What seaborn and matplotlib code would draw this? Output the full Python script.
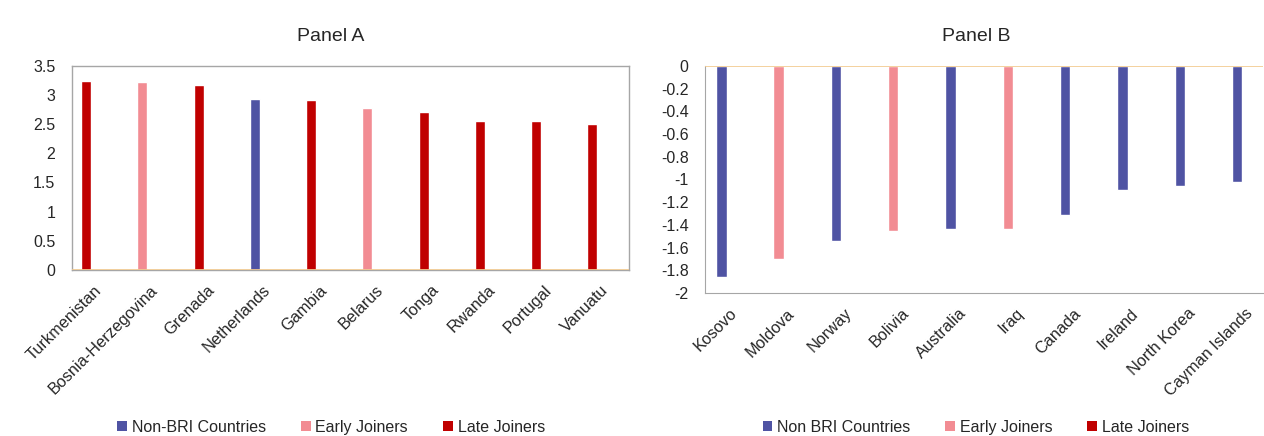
import matplotlib
matplotlib.use('Agg')
import matplotlib.pyplot as plt
import matplotlib.transforms as mtransforms
import numpy as np
import pandas as pd
import seaborn as sns
from matplotlib.patches import Patch

sns.set_style('white')
plt.rcParams['font.family'] = ['Liberation Sans', 'DejaVu Sans']

# Panel A data
countries_a = ['Turkmenistan', 'Bosnia-Herzegovina', 'Grenada', 'Netherlands', 'Gambia',
               'Belarus', 'Tonga', 'Rwanda', 'Portugal', 'Vanuatu']
values_a = [3.24, 3.22, 3.17, 2.93, 2.91, 2.77, 2.71, 2.56, 2.55, 2.51]
groups_a = ['Late', 'Early', 'Late', 'Non', 'Late', 'Early', 'Late', 'Late', 'Late', 'Late']

# Panel B data
countries_b = ['Kosovo', 'Moldova', 'Norway', 'Bolivia', 'Australia', 'Iraq', 'Canada',
               'Ireland', 'North Korea', 'Cayman Islands']
values_b = [-1.86, -1.70, -1.54, -1.45, -1.44, -1.44, -1.31, -1.09, -1.06, -1.02]
groups_b = ['Non', 'Early', 'Non', 'Early', 'Non', 'Early', 'Non', 'Non', 'Non', 'Non']

group_order = ['Non', 'Early', 'Late']
palette = {'Non': '#4F53A3', 'Early': '#F28C93', 'Late': '#C00000'}
legend_a = ['Non-BRI Countries', 'Early Joiners', 'Late Joiners']
legend_b = ['Non BRI Countries', 'Early Joiners', 'Late Joiners']

TEXT = '#262626'

fig = plt.figure(figsize=(12.64, 4.36), dpi=100)
ax_a = fig.add_axes([0.057, 0.381, 0.441, 0.468])
ax_b = fig.add_axes([0.558, 0.328, 0.441, 0.521])


def fmt(v):
    return '0' if abs(v) < 1e-9 else f'{v:g}'


def draw_panel(ax, countries, values, groups, title, ylim, yticks, xlim,
               legend_labels, center_x):
    df = pd.DataFrame({'country': countries, 'value': values, 'group': groups})
    sns.barplot(data=df, x='country', y='value', hue='group', hue_order=group_order,
                palette=palette, dodge=False, width=0.18, ax=ax, legend=False,
                saturation=1)
    ax.set_ylim(*ylim)
    ax.set_xlim(*xlim)
    ax.set_yticks(yticks)
    ax.set_yticklabels([fmt(v) for v in yticks], fontsize=11.5, color=TEXT)
    ax.set_xticks(range(len(countries)))
    ax.set_xticklabels([])
    # Excel-style category labels: rotated, ending a little right of their bar
    trans = (mtransforms.blended_transform_factory(ax.transData, ax.transAxes)
             + mtransforms.ScaledTranslation(0.13, -0.18, fig.dpi_scale_trans))
    for i, name in enumerate(countries):
        ax.text(i, 0, name, transform=trans, rotation=45, rotation_mode='anchor',
                ha='right', va='center', fontsize=11.7, color=TEXT)
    ax.tick_params(axis='y', length=0, pad=12)
    ax.tick_params(axis='x', length=0)
    ax.set_xlabel('')
    ax.set_ylabel('')
    ax.axhline(0, color='#F2C98E', lw=1.2, zorder=3)
    fig.text(center_x, 0.917, title, ha='center', va='center', fontsize=14, color=TEXT)
    handles = [Patch(facecolor=palette[g], edgecolor='none') for g in group_order]
    fig.legend(handles, legend_labels, loc='center', bbox_to_anchor=(center_x, 0.02),
               ncol=3, frameon=False, fontsize=11.5, handlelength=0.6, handleheight=0.6,
               handletextpad=0.3, columnspacing=2.2)


draw_panel(ax_a, countries_a, values_a, groups_a, 'Panel A', (0, 3.5),
           np.arange(0, 3.51, 0.5), (-0.25, 9.66), legend_a, 0.262)
for s in ax_a.spines.values():
    s.set_color('#A6A6A6')
    s.set_linewidth(1)

draw_panel(ax_b, countries_b, values_b, groups_b, 'Panel B', (-2, 0),
           np.round(np.arange(-2, 0.01, 0.2), 1), (-0.28, 9.45), legend_b, 0.772)
ax_b.spines['top'].set_visible(False)
ax_b.spines['right'].set_visible(False)
ax_b.spines['left'].set_color('#A6A6A6')
ax_b.spines['bottom'].set_color('#A6A6A6')

fig.savefig('out.png', dpi=100)
